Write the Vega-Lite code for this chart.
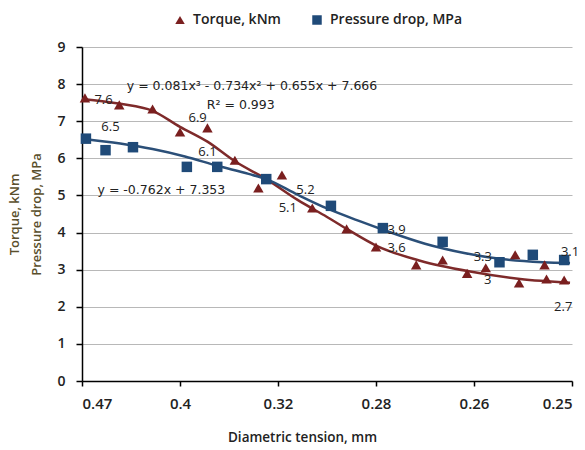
{
  "$schema": "https://vega.github.io/schema/vega-lite/v6.json",
  "width": 490,
  "height": 334,
  "autosize": "none",
  "padding": {"left": 82, "top": 47, "right": 13, "bottom": 69},
  "background": "white",
  "config": {
    "view": {"stroke": null},
    "font": "Open Sans"
  },
  "datasets": {
    "points": [
      {"series": "Torque, kNm", "x": 0.03, "y": 7.63},
      {"series": "Torque, kNm", "x": 0.38, "y": 7.44},
      {"series": "Torque, kNm", "x": 0.72, "y": 7.33},
      {"series": "Torque, kNm", "x": 1.0, "y": 6.71},
      {"series": "Torque, kNm", "x": 1.28, "y": 6.82},
      {"series": "Torque, kNm", "x": 1.56, "y": 5.95},
      {"series": "Torque, kNm", "x": 1.8, "y": 5.2},
      {"series": "Torque, kNm", "x": 2.04, "y": 5.55},
      {"series": "Torque, kNm", "x": 2.35, "y": 4.66},
      {"series": "Torque, kNm", "x": 2.7, "y": 4.1},
      {"series": "Torque, kNm", "x": 3.0, "y": 3.61},
      {"series": "Torque, kNm", "x": 3.41, "y": 3.13},
      {"series": "Torque, kNm", "x": 3.68, "y": 3.26},
      {"series": "Torque, kNm", "x": 3.93, "y": 2.9},
      {"series": "Torque, kNm", "x": 4.12, "y": 3.05},
      {"series": "Torque, kNm", "x": 4.42, "y": 3.4},
      {"series": "Torque, kNm", "x": 4.46, "y": 2.64},
      {"series": "Torque, kNm", "x": 4.72, "y": 3.13},
      {"series": "Torque, kNm", "x": 4.74, "y": 2.75},
      {"series": "Torque, kNm", "x": 4.92, "y": 2.72},
      {"series": "Pressure drop, MPa", "x": 0.04, "y": 6.53},
      {"series": "Pressure drop, MPa", "x": 0.24, "y": 6.22},
      {"series": "Pressure drop, MPa", "x": 0.52, "y": 6.3},
      {"series": "Pressure drop, MPa", "x": 1.07, "y": 5.77},
      {"series": "Pressure drop, MPa", "x": 1.38, "y": 5.77},
      {"series": "Pressure drop, MPa", "x": 1.88, "y": 5.44},
      {"series": "Pressure drop, MPa", "x": 2.54, "y": 4.72},
      {"series": "Pressure drop, MPa", "x": 3.07, "y": 4.12},
      {"series": "Pressure drop, MPa", "x": 3.68, "y": 3.75},
      {"series": "Pressure drop, MPa", "x": 4.26, "y": 3.2},
      {"series": "Pressure drop, MPa", "x": 4.6, "y": 3.4},
      {"series": "Pressure drop, MPa", "x": 4.92, "y": 3.26}
    ],
    "curves": [
      {"curve": "torque", "x": 0.0, "y": 7.6},
      {"curve": "torque", "x": 0.39, "y": 7.47},
      {"curve": "torque", "x": 0.72, "y": 7.28},
      {"curve": "torque", "x": 1.0, "y": 6.85},
      {"curve": "torque", "x": 1.28, "y": 6.45},
      {"curve": "torque", "x": 1.56, "y": 5.92},
      {"curve": "torque", "x": 1.88, "y": 5.44},
      {"curve": "torque", "x": 2.2, "y": 4.88},
      {"curve": "torque", "x": 2.5, "y": 4.42},
      {"curve": "torque", "x": 2.7, "y": 4.1},
      {"curve": "torque", "x": 3.0, "y": 3.65},
      {"curve": "torque", "x": 3.45, "y": 3.24},
      {"curve": "torque", "x": 3.96, "y": 2.95},
      {"curve": "torque", "x": 4.47, "y": 2.75},
      {"curve": "torque", "x": 4.98, "y": 2.65},
      {"curve": "pressure", "x": 0.0, "y": 6.53},
      {"curve": "pressure", "x": 0.39, "y": 6.4},
      {"curve": "pressure", "x": 0.72, "y": 6.25},
      {"curve": "pressure", "x": 1.05, "y": 6.05},
      {"curve": "pressure", "x": 1.38, "y": 5.8},
      {"curve": "pressure", "x": 1.7, "y": 5.58},
      {"curve": "pressure", "x": 1.88, "y": 5.44},
      {"curve": "pressure", "x": 2.2, "y": 5.02},
      {"curve": "pressure", "x": 2.5, "y": 4.65},
      {"curve": "pressure", "x": 2.84, "y": 4.3},
      {"curve": "pressure", "x": 3.1, "y": 4.05},
      {"curve": "pressure", "x": 3.5, "y": 3.7},
      {"curve": "pressure", "x": 3.9, "y": 3.45},
      {"curve": "pressure", "x": 4.3, "y": 3.28},
      {"curve": "pressure", "x": 4.7, "y": 3.2},
      {"curve": "pressure", "x": 4.98, "y": 3.18}
    ],
    "labels": [
      {"x": 0.22, "y": 7.57, "text": "7.6"},
      {"x": 0.29, "y": 6.85, "text": "6.5"},
      {"x": 1.18, "y": 7.09, "text": "6.9"},
      {"x": 1.28, "y": 6.17, "text": "6.1"},
      {"x": 2.28, "y": 5.15, "text": "5.2"},
      {"x": 2.1, "y": 4.66, "text": "5.1"},
      {"x": 3.21, "y": 4.07, "text": "3.9"},
      {"x": 3.21, "y": 3.58, "text": "3.6"},
      {"x": 4.09, "y": 3.34, "text": "3.3"},
      {"x": 4.14, "y": 2.72, "text": "3"},
      {"x": 4.98, "y": 3.48, "text": "3.1"},
      {"x": 4.91, "y": 2.0, "text": "2.7"}
    ],
    "equations": [
      {"x": 1.735, "y": 7.94, "text": "y = 0.081x³ - 0.734x² + 0.655x + 7.666"},
      {"x": 1.62, "y": 7.44, "text": "R² = 0.993"},
      {"x": 0.81, "y": 5.15, "text": "y = -0.762x + 7.353"}
    ]
  },
  "encoding": {
    "x": {
      "field": "x", "type": "quantitative",
      "scale": {"domain": [0, 5], "nice": false, "zero": false},
      "axis": {
        "values": [0, 1, 2, 3, 4, 5],
        "labelExpr": "['0.47','0.4','0.32','0.28','0.26','0.25'][datum.value]",
        "title": "Diametric tension, mm",
        "titleFont": "Open Sans", "titleFontSize": 13.5, "titleFontWeight": 600, "titleColor": "#222",
        "titlePadding": 19,
        "titleX": 220,
        "labelFont": "Open Sans", "labelFontSize": 15, "labelFontWeight": 600, "labelColor": "#222",
        "labelPadding": 10,
        "domainColor": "#000", "domainWidth": 1.5,
        "tickColor": "#000", "tickSize": 5, "tickWidth": 1.5,
        "grid": false
      }
    },
    "y": {
      "field": "y", "type": "quantitative",
      "scale": {"domain": [0, 9], "nice": false},
      "axis": {
        "values": [0, 1, 2, 3, 4, 5, 6, 7, 8, 9],
        "title": ["Torque, kNm", "Pressure drop, MPa"],
        "titleFont": "Open Sans", "titleFontSize": 13, "titleFontWeight": 600, "titleColor": "#5a4f2c",
        "titleLineHeight": 22,
        "titleY": 167,
        "titleX": -61,
        "labelFont": "Open Sans", "labelFontSize": 14, "labelFontWeight": 600, "labelColor": "#222",
        "labelPadding": 11,
        "domainColor": "#000", "domainWidth": 1.5,
        "tickColor": "#000", "tickSize": 6, "tickWidth": 1.5,
        "grid": true, "gridColor": "#b8b8b8", "gridWidth": 1
      }
    }
  },
  "layer": [
    {
      "data": {"name": "curves"},
      "mark": {"type": "line", "interpolate": "monotone", "strokeWidth": 2.5},
      "encoding": {
        "stroke": {
          "field": "curve", "type": "nominal",
          "scale": {"domain": ["torque", "pressure"], "range": ["#7e2a2a", "#2b4f78"]},
          "legend": null
        }
      }
    },
    {
      "data": {"name": "points"},
      "mark": {"type": "point", "filled": true, "opacity": 1, "size": 110},
      "encoding": {
        "color": {
          "field": "series", "type": "nominal",
          "scale": {"domain": ["Torque, kNm", "Pressure drop, MPa"], "range": ["#7a1f1f", "#1f4a78"]},
          "legend": {
            "title": null, "orient": "none", "direction": "horizontal",
            "legendX": 91, "legendY": -34,
            "labelFont": "Open Sans", "labelFontSize": 14, "labelFontWeight": 600, "labelColor": "#222",
            "symbolSize": 90, "columnPadding": 29, "labelOffset": 6
          }
        },
        "shape": {
          "field": "series", "type": "nominal",
          "scale": {"domain": ["Torque, kNm", "Pressure drop, MPa"], "range": ["triangle-up", "square"]},
          "legend": {
            "title": null, "orient": "none", "direction": "horizontal",
            "legendX": 91, "legendY": -34,
            "labelFont": "Open Sans", "labelFontSize": 14, "labelFontWeight": 600, "labelColor": "#222",
            "symbolSize": 90, "columnPadding": 29, "labelOffset": 6
          }
        }
      }
    },
    {
      "data": {"name": "labels"},
      "mark": {"type": "text", "font": "Open Sans", "fontSize": 13, "color": "#222", "align": "center", "baseline": "middle"},
      "encoding": {"text": {"field": "text"}}
    },
    {
      "data": {"name": "equations"},
      "mark": {"type": "text", "font": "DejaVu Sans", "fontSize": 12.5, "color": "#222", "align": "center", "baseline": "middle"},
      "encoding": {"text": {"field": "text"}}
    }
  ]
}
